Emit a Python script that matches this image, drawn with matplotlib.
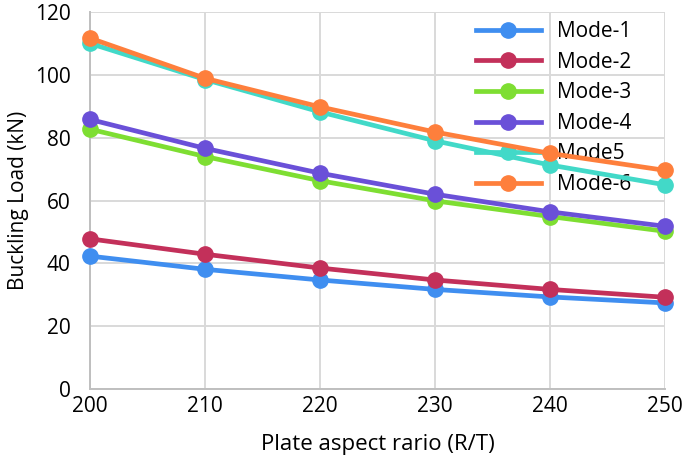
import matplotlib
matplotlib.use("Agg")
import matplotlib.pyplot as plt

plt.rcParams["font.family"] = ["Open Sans", "DejaVu Sans"]

# plate aspect ratio R/T
ratio = [200, 210, 220, 230, 240, 250]

mode_1 = [42.3, 38.1, 34.7, 31.7, 29.3, 27.4]
mode_2 = [47.8, 42.9, 38.5, 34.7, 31.7, 29.2]
mode_3 = [82.7, 74.0, 66.3, 59.9, 54.9, 50.2]
mode_4 = [85.8, 76.6, 68.7, 62.0, 56.4, 51.8]
mode_5 = [110.0, 98.5, 88.2, 79.0, 71.3, 65.0]
mode_6 = [111.7, 98.9, 89.8, 81.8, 75.0, 69.6]

labels = ["Mode-1", "Mode-2", "Mode-3", "Mode-4", "Mode5", "Mode-6"]
colors = ["#3f8ef0", "#c3305a", "#7ede32", "#6a50d8", "#42d9c8", "#fe7f3c"]
series = [mode_1, mode_2, mode_3, mode_4, mode_5, mode_6]

fig = plt.figure(figsize=(6.85, 4.57), dpi=100)
ax = fig.add_axes([0.1314, 0.1488, 0.8394, 0.8249])

for vals, lab, col in zip(series, labels, colors):
    ax.plot(ratio, vals, color=col, label=lab, linewidth=3.4,
            marker="o", markersize=11, zorder=3, clip_on=False)

ax.set_xlim(200, 250)
ax.set_ylim(0, 120)
ax.set_xticks(ratio)
ax.set_yticks(range(0, 121, 20))
ax.grid(True, color="#d9d9d9", linewidth=1.4, zorder=0)
ax.set_axisbelow(True)
ax.tick_params(length=0, labelsize=15)
ax.tick_params(axis="y", pad=14)
ax.tick_params(axis="x", pad=5)
for side in ["top", "right"]:
    ax.spines[side].set_visible(False)
for side in ["left", "bottom"]:
    ax.spines[side].set_color("#bfbfbf")
    ax.spines[side].set_linewidth(1.4)

ax.set_xlabel("Plate aspect rario (R/T)", fontsize=16, labelpad=12)
ax.set_ylabel("Buckling Load (kN)", fontsize=15, labelpad=4)

leg = ax.legend(loc="upper left", bbox_to_anchor=(0.683, 0.972),
                bbox_transform=fig.transFigure, frameon=False,
                fontsize=15, handlelength=3.1, handletextpad=0.77,
                labelspacing=0.46, borderaxespad=0)
leg.set_zorder(1.5)

fig.savefig("out.png", dpi=100)
